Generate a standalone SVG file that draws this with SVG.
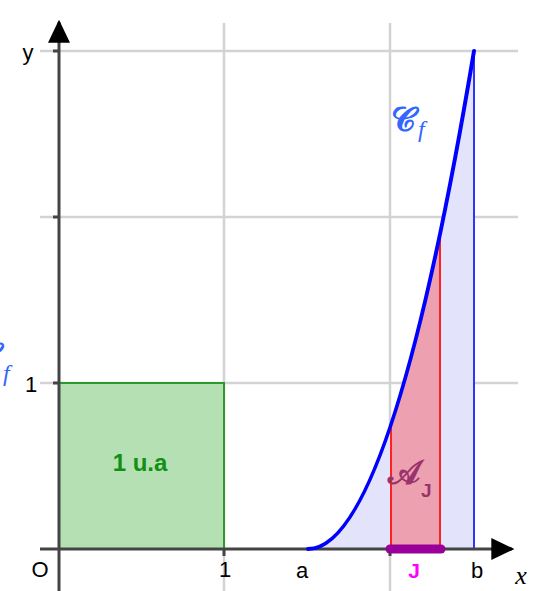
<svg xmlns="http://www.w3.org/2000/svg" width="536" height="591" viewBox="0 0 536 591">
<style>
.grid{stroke:#d3d3d3;stroke-width:2.5;fill:none}
.axis{stroke:#444;stroke-width:3;fill:none}
.tick{stroke:#444;stroke-width:3;fill:none}
.lbl{font-family:"Liberation Sans",Arial,sans-serif;font-size:22px;fill:#000}
.scr{font-family:"DejaVu Serif",serif}
</style>
<defs>
<marker id="arr" viewBox="0 0 10 10" refX="9" refY="5" markerWidth="23" markerHeight="22" markerUnits="userSpaceOnUse" orient="auto" preserveAspectRatio="none">
<path d="M0,0 L10,5 L0,10 Z" fill="#000"/>
</marker>
</defs>
<rect width="536" height="591" fill="#fff"/>
<g id="grid">
<line class="grid" x1="40" y1="51" x2="518" y2="51"/>
<line class="grid" x1="40" y1="217" x2="518" y2="217"/>
<line class="grid" x1="40" y1="383" x2="518" y2="383"/>
<line class="grid" x1="224" y1="23" x2="224" y2="591"/>
<line class="grid" x1="390" y1="23" x2="390" y2="591"/>
</g>
<g id="square">
<rect x="59" y="383" width="165" height="166" fill="#b4e0b4" stroke="#2a9a2a" stroke-width="2"/>
<text x="140" y="471" text-anchor="middle" font-family="Liberation Sans,Arial,sans-serif" font-weight="bold" font-size="24" fill="#119011">1 u.a</text>
</g>
<g id="area-ab">
<path d="M308,549 Q391,549 474,51 L474,549 Z" fill="#e3e3fb" stroke="none"/>
<line x1="474" y1="51" x2="474" y2="549" stroke="#3333ff" stroke-width="2"/>
</g>
<g id="area-J">
<path d="M391,549 L391,424.5 Q415.5,351 440,234.1 L440,549 Z" fill="#eca0b0" stroke="#ff2020" stroke-width="2"/>
<text class="scr" x="388" y="484" font-size="34" fill="#99336b" stroke="#99336b" stroke-width="1.2">𝒜</text>
<text x="421" y="497" font-family="Liberation Sans,Arial,sans-serif" font-weight="bold" font-size="19" fill="#99336b">J</text>
</g>
<g id="axes">
<line class="axis" x1="40" y1="549" x2="512" y2="549" marker-end="url(#arr)"/>
<line class="axis" x1="59" y1="591" x2="59" y2="22" marker-end="url(#arr)"/>
<line class="tick" x1="53" y1="51" x2="59" y2="51"/>
<line class="tick" x1="53" y1="217" x2="59" y2="217"/>
<line class="tick" x1="53" y1="383" x2="59" y2="383"/>
<line class="tick" x1="224" y1="549" x2="224" y2="556"/>
<line class="tick" x1="390" y1="549" x2="390" y2="556"/>
</g>
<g id="curve">
<path d="M308,549 Q391,549 474,51" fill="none" stroke="#0000ff" stroke-width="4" stroke-linecap="round"/>
<text class="scr" x="391" y="131" font-size="34" fill="#3366ff" stroke="#3366ff" stroke-width="1.2">𝒞</text>
<text x="418" y="137" font-family="Liberation Serif,serif" font-style="italic" font-size="24" fill="#3366ff">f</text>
<text class="scr" x="-24" y="367" font-size="34" fill="#3366ff" stroke="#3366ff" stroke-width="1.2">𝒞</text>
<text x="3" y="381" font-family="Liberation Serif,serif" font-style="italic" font-size="24" fill="#3366ff">f</text>
</g>
<g id="J">
<line x1="390" y1="549" x2="441" y2="549" stroke="#990099" stroke-width="9" stroke-linecap="round"/>
<text x="414" y="578" text-anchor="middle" font-family="Liberation Sans,Arial,sans-serif" font-weight="bold" font-size="21" fill="#ff00ff">J</text>
</g>
<g id="labels">
<text class="lbl" x="28" y="60" text-anchor="middle">y</text>
<text class="lbl" x="31" y="392" text-anchor="middle">1</text>
<text class="lbl" x="40" y="577" text-anchor="middle">O</text>
<text class="lbl" x="225" y="577" text-anchor="middle">1</text>
<text class="lbl" x="302" y="578" text-anchor="middle">a</text>
<text class="lbl" x="477" y="578" text-anchor="middle">b</text>
<text x="521" y="584" text-anchor="middle" font-family="Liberation Serif,serif" font-style="italic" font-size="26">x</text>
</g>
</svg>
